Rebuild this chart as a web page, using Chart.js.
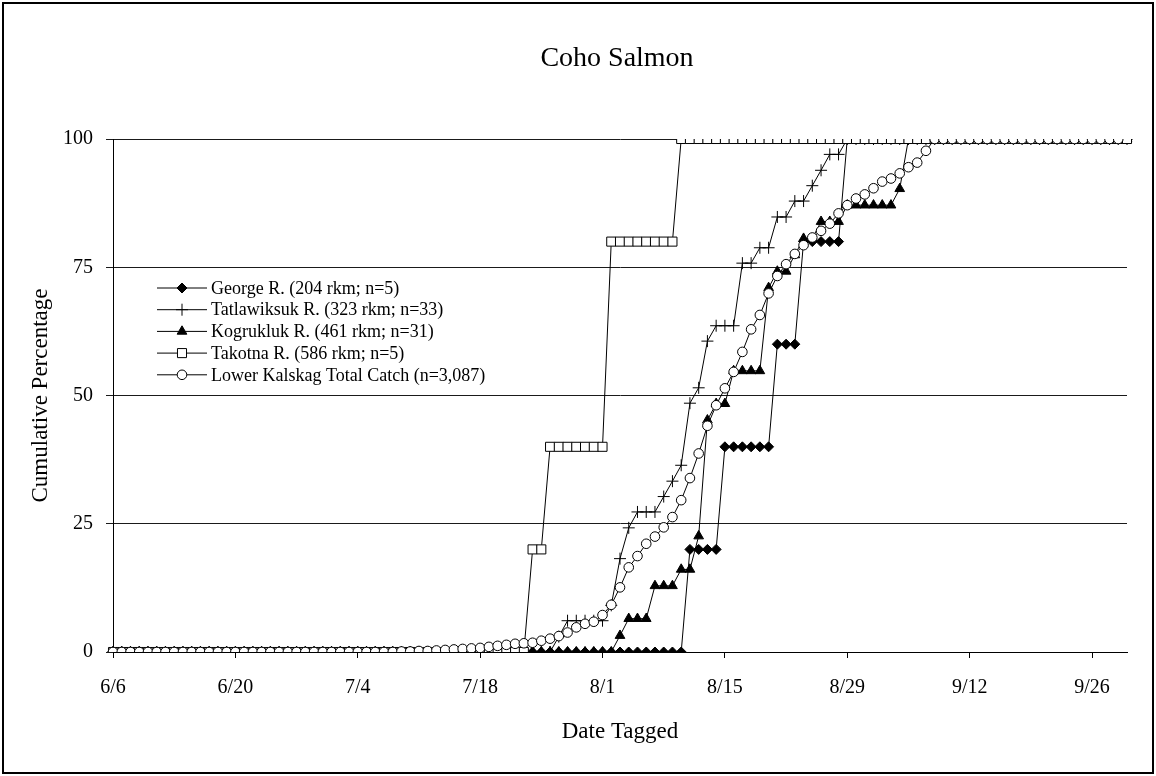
<!DOCTYPE html>
<html>
<head>
<meta charset="utf-8">
<title>Coho Salmon</title>
<script src="https://cdn.jsdelivr.net/npm/chart.js@4.4.1/dist/chart.umd.min.js"></script>
<style>
  html, body { margin: 0; padding: 0; background: #fff; }
  #wrap { width: 1156px; height: 776px; }
</style>
</head>
<body>
<div id="wrap"><canvas id="chart" width="1156" height="776"></canvas></div>
<script>
// Chart text
const chartTitle = 'Coho Salmon';
const xTitle = 'Date Tagged';
const yTitle = 'Cumulative Percentage';

// Categories: one per day, 6/6 - 9/30
const dates = [
  '6/6','6/7','6/8','6/9','6/10','6/11','6/12','6/13','6/14','6/15','6/16','6/17','6/18',
  '6/19','6/20','6/21','6/22','6/23','6/24','6/25','6/26','6/27','6/28','6/29','6/30',
  '7/1','7/2','7/3','7/4','7/5','7/6','7/7','7/8','7/9','7/10','7/11','7/12','7/13','7/14','7/15','7/16',
  '7/17','7/18','7/19','7/20','7/21','7/22','7/23','7/24','7/25','7/26','7/27','7/28','7/29','7/30','7/31',
  '8/1','8/2','8/3','8/4','8/5','8/6','8/7','8/8','8/9','8/10','8/11','8/12','8/13','8/14','8/15','8/16',
  '8/17','8/18','8/19','8/20','8/21','8/22','8/23','8/24','8/25','8/26','8/27','8/28','8/29','8/30','8/31',
  '9/1','9/2','9/3','9/4','9/5','9/6','9/7','9/8','9/9','9/10','9/11','9/12','9/13','9/14','9/15',
  '9/16','9/17','9/18','9/19','9/20','9/21','9/22','9/23','9/24','9/25','9/26','9/27','9/28','9/29','9/30'
];

// Dates that carry a tick label
const xTickLabels = ['6/6','6/20','7/4','7/18','8/1','8/15','8/29','9/12','9/26'];

// Series names
const seriesNames = [
  'George R. (204 rkm; n=5)',
  'Tatlawiksuk R. (323 rkm; n=33)',
  'Kogrukluk R. (461 rkm; n=31)',
  'Takotna R. (586 rkm; n=5)',
  'Lower Kalskag Total Catch (n=3,087)'
];

// Cumulative percentages (June | July | August | September)
const george = [
  0,0,0,0,0,0,0,0,0,0,0,0,0,0,0,0,0,0,0,0,0,0,0,0,0,
  0,0,0,0,0,0,0,0,0,0,0,0,0,0,0,0,0,0,0,0,0,0,0,0,0,0,0,0,0,0,0,
  0,0,0,0,0,0,0,0,0,0,20,20,20,20,40,40,40,40,40,40,60,60,60,80,80,80,80,80,100,100,100,
  100,100,100,100,100,100,100,100,100,100,100,100,100,100,100,100,100,100,100,100,100,100,100,100,100,100,100,100,100,100
];
const tatlawiksuk = [
  0,0,0,0,0,0,0,0,0,0,0,0,0,0,0,0,0,0,0,0,0,0,0,0,0,
  0,0,0,0,0,0,0,0,0,0,0,0,0,0,0,0,0,0,0,0,0,0,0,0,0,0,3.0,6.1,6.1,6.1,6.1,
  6.1,9.1,18.2,24.2,27.3,27.3,27.3,30.3,33.3,36.4,48.5,51.5,60.6,63.6,63.6,63.6,75.8,75.8,78.8,78.8,
  84.8,84.8,87.9,87.9,90.9,93.9,97.0,97.0,100,100,100,
  100,100,100,100,100,100,100,100,100,100,100,100,100,100,100,100,100,100,100,100,100,100,100,100,100,100,100,100,100,100
];
const kogrukluk = [
  0,0,0,0,0,0,0,0,0,0,0,0,0,0,0,0,0,0,0,0,0,0,0,0,0,
  0,0,0,0,0,0,0,0,0,0,0,0,0,0,0,0,0,0,0,0,0,0,0,0,0,0,0,0,0,0,0,
  0,0,3.2,6.5,6.5,6.5,12.9,12.9,12.9,16.1,16.1,22.6,45.2,48.4,48.4,54.8,54.8,54.8,54.8,71.0,
  74.2,74.2,77.4,80.6,80.6,83.9,83.9,83.9,87.1,87.1,87.1,
  87.1,87.1,87.1,90.3,100,100,100,100,100,100,100,100,100,100,100,100,100,100,100,100,100,100,100,100,100,100,100,100,100,100
];
const takotna = [
  0,0,0,0,0,0,0,0,0,0,0,0,0,0,0,0,0,0,0,0,0,0,0,0,0,
  0,0,0,0,0,0,0,0,0,0,0,0,0,0,0,0,0,0,0,0,0,0,0,20,20,40,40,40,40,40,40,
  40,80,80,80,80,80,80,80,80,100,100,100,100,100,100,100,100,100,100,100,100,100,100,100,100,100,100,100,100,100,100,100,
  100,100,100,100,100,100,100,100,100,100,100,100,100,100,100,100,100,100,100,100,100,100,100,100,100,100,100,100,100,100
];
const lowerKalskag = [
  0,0,0,0,0,0,0,0,0,0,0,0,0,0,0,0,0,0,0,0,0,0,0,0,0,
  0,0,0,0,0,0,0,0,0.1,0.1,0.2,0.2,0.3,0.4,0.5,0.6,0.7,0.8,1.0,1.2,1.4,1.6,1.7,1.8,2.2,2.6,3.1,3.8,4.8,5.5,5.9,
  7.2,9.2,12.6,16.5,18.7,21.1,22.5,24.3,26.3,29.6,33.9,38.7,44.1,48.1,51.4,54.6,58.5,62.9,65.7,69.9,
  73.3,75.6,77.6,79.3,80.8,82.1,83.5,85.5,87.1,88.4,89.2,
  90.4,91.7,92.3,93.3,94.5,95.4,97.7,100,100,100,100,100,100,100,100,100,100,100,100,100,100,100,100,100,100,100,100,100,100
];

const seriesValues = [george, tatlawiksuk, kogrukluk, takotna, lowerKalskag];

// Marker looks per series
const markers = [
  { pointStyle: 'rectRot',  radius: 5,   fill: '#000' },
  { pointStyle: 'cross',    radius: 6,   fill: '#000' },
  { pointStyle: 'triangle', radius: 5.6, fill: '#000' },
  { pointStyle: 'rect',     radius: 6.4, fill: '#fff' },
  { pointStyle: 'circle',   radius: 4.8, fill: '#fff' }
];

const serif = '"Liberation Serif", "Times New Roman", Times, serif';

const datasets = seriesValues.map((vals, i) => ({
  label: seriesNames[i],
  data: vals,
  borderColor: '#000',
  borderWidth: 1,
  tension: 0,
  pointStyle: markers[i].pointStyle,
  pointRadius: markers[i].radius,
  pointHoverRadius: markers[i].radius,
  pointBackgroundColor: markers[i].fill,
  pointBorderColor: '#000',
  pointBorderWidth: 1,
  order: seriesValues.length - i   // last series on top, like the original
}));

// Title, legend and outer frame
const decorations = {
  id: 'decorations',
  afterDraw(chart) {
    const ctx = chart.ctx;
    ctx.save();
    ctx.fillStyle = '#000';
    ctx.font = '28px ' + serif;
    ctx.textAlign = 'center';
    ctx.textBaseline = 'middle';
    ctx.fillText(chartTitle, 617, 59);

    // legend
    ctx.font = '18px ' + serif;
    ctx.textAlign = 'left';
    for (let i = 0; i < seriesNames.length; i++) {
      const y = 288 + i * 21.7;
      ctx.strokeStyle = '#000';
      ctx.lineWidth = 1;
      ctx.beginPath();
      ctx.moveTo(157, y);
      ctx.lineTo(207, y);
      ctx.stroke();
      ctx.fillStyle = markers[i].fill;
      Chart.helpers.drawPoint(ctx, {
        pointStyle: markers[i].pointStyle,
        radius: markers[i].radius,
        borderWidth: 1,
        rotation: 0
      }, 182, y);
      ctx.fillStyle = '#000';
      ctx.fillText(seriesNames[i], 211, y + 1);
    }

    ctx.strokeStyle = '#000';
    ctx.lineWidth = 2;
    ctx.strokeRect(3, 3, 1150, 770);
    ctx.restore();
  }
};

const ctx = document.getElementById('chart').getContext('2d');
const chart = new Chart(ctx, {
  type: 'line',
  data: { labels: dates, datasets: datasets },
  options: {
    responsive: false,
    animation: false,
    devicePixelRatio: 1,
    layout: { padding: { left: 10, right: 29, top: 139, bottom: 20 } },
    plugins: {
      legend: { display: false },
      tooltip: { enabled: false },
      title: { display: false }
    },
    scales: {
      x: {
        type: 'category',
        offset: false,
        afterFit(scale) { scale.height = 104; },
        grid: { drawOnChartArea: false, drawTicks: true, tickLength: 6, color: '#000', lineWidth: 1 },
        border: { display: true, color: '#000', width: 1 },
        ticks: {
          autoSkip: false,
          maxRotation: 0,
          padding: 18,
          color: '#000',
          font: { family: serif, size: 20 },
          callback(value, index) {
            const d = dates[index];
            return xTickLabels.includes(d) ? d : null;
          }
        },
        title: {
          display: true,
          text: xTitle,
          color: '#000',
          font: { family: serif, size: 23 },
          padding: { top: 0, bottom: 10 }
        }
      },
      y: {
        min: 0,
        max: 100,
        afterFit(scale) { scale.width = 103; },
        grid: { drawOnChartArea: true, drawTicks: true, tickLength: 7, color: '#1a1a1a', lineWidth: 1 },
        border: { display: true, color: '#000', width: 1 },
        ticks: {
          stepSize: 25,
          padding: 13,
          color: '#000',
          font: { family: serif, size: 20 }
        },
        title: {
          display: true,
          text: yTitle,
          color: '#000',
          font: { family: serif, size: 23 },
          padding: { top: 17, bottom: 0 }
        }
      }
    }
  },
  plugins: [decorations]
});
</script>
</body>
</html>
